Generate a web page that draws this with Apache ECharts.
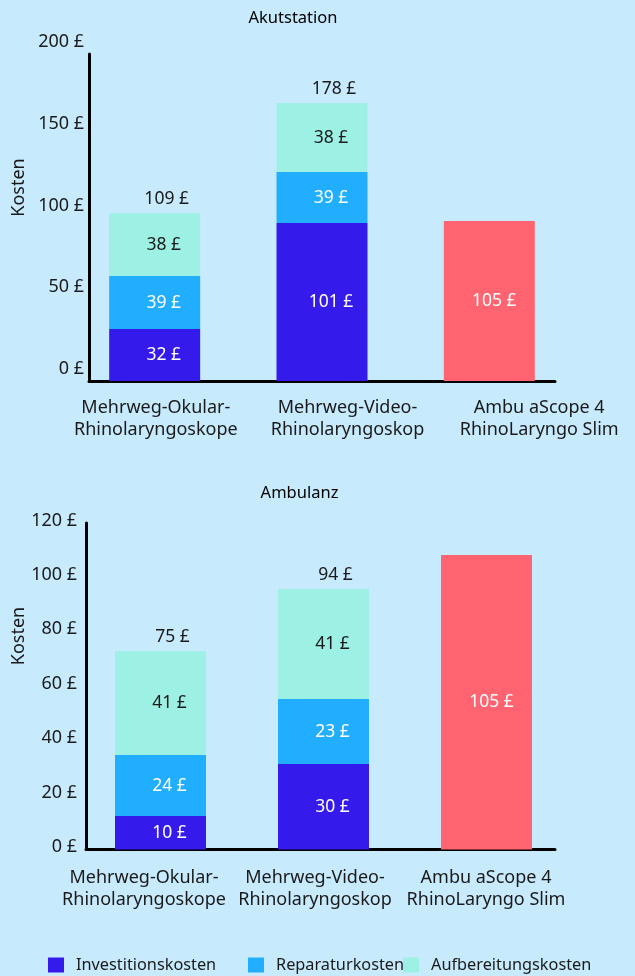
<!DOCTYPE html>
<html>
<head>
<meta charset="utf-8">
<script src="https://cdn.jsdelivr.net/npm/echarts@6/dist/echarts.min.js"></script>
<style>
  html, body { margin: 0; padding: 0; background: #c8eafd; }
  #chart { width: 635px; height: 976px; }
</style>
</head>
<body>
<div id="chart"></div>
<script>
const categories = ['Mehrweg-Okular-\nRhinolaryngoskope', 'Mehrweg-Video-\nRhinolaryngoskop', 'Ambu aScope 4\nRhinoLaryngo Slim'];
const seriesNames = ['Investitionskosten', 'Reparaturkosten', 'Aufbereitungskosten'];

// Akutstation - bar heights as drawn
const akutInvest = [31.8, 96.6];
const akutRepair = [32.4, 31.2];
const akutReprocess = [38.4, 42.2];
const akutAmbu = 97.9;
// Akutstation - printed labels
const akutInvestLabels = [32, 101];
const akutRepairLabels = [39, 39];
const akutReprocessLabels = [38, 38];
const akutTotalLabels = [109, 178];
const akutAmbuLabel = 105;
const akutTicks = [0, 50, 100, 150, 200];

// Ambulanz - bar heights as drawn
const ambInvest = [12.3, 31.4];
const ambRepair = [22.4, 23.9];
const ambReprocess = [38.2, 40.4];
const ambAmbu = 108.2;
// Ambulanz - printed labels
const ambInvestLabels = [10, 30];
const ambRepairLabels = [24, 23];
const ambReprocessLabels = [41, 41];
const ambTotalLabels = [75, 94];
const ambAmbuLabel = 105;
const ambTicks = [0, 20, 40, 60, 80, 100, 120];

const FONT = '"Noto Sans", sans-serif';
const TEXT = '#1a1a1a';
const colors = ['#341bec', '#22aefe', '#9cf0e4'];
const ambuColor = '#ff6470';

const chart = echarts.init(document.getElementById('chart'));

function panel(base, p) {
  const grids = [
    { left: p.axisLeft, width: p.axisWidth, top: p.top, height: p.height },
    { left: p.barLeft, width: p.barWidth, top: p.top, height: p.height },
    { left: p.lblLeft, width: p.lblWidth, top: p.top, height: p.height }
  ];
  const yMax = p.ticks[p.ticks.length - 1];
  const yStep = p.ticks[1] - p.ticks[0];
  const xAxes = [
    { gridIndex: base, type: 'category', data: categories,
      axisLine: { lineStyle: { color: '#000', width: 3 } },
      axisTick: { show: false }, axisLabel: { show: false } },
    { gridIndex: base + 1, type: 'category', data: categories, show: false },
    { gridIndex: base + 2, type: 'category', data: categories,
      axisLine: { show: false }, axisTick: { show: false },
      axisLabel: { interval: 0, fontSize: 18, lineHeight: 22, margin: p.catMargin,
        color: TEXT, fontFamily: FONT } }
  ];
  const yAxes = [
    { gridIndex: base, type: 'value', min: 0, max: yMax, interval: yStep,
      axisLine: { show: true, lineStyle: { color: '#000', width: 3 } },
      axisTick: { show: false }, splitLine: { show: false },
      axisLabel: { fontSize: 18, color: TEXT, fontFamily: FONT, margin: p.tickMargin,
        verticalAlign: 'bottom', lineHeight: p.tickLift, formatter: v => v + ' £' } },
    { gridIndex: base + 1, type: 'value', min: 0, max: yMax, show: false },
    { gridIndex: base + 2, type: 'value', min: 0, max: yMax, show: false }
  ];
  const stackId = 's' + base;
  const inside = (labels, color) => ({
    show: true, position: 'inside', offset: [9, 0], fontSize: 17.5, color: color,
    fontFamily: FONT, formatter: q => labels[q.dataIndex] + ' £'
  });
  const mk = (name, vals, labels, color, lblColor) => ({
    name: name, type: 'bar', stack: stackId, xAxisIndex: base + 1, yAxisIndex: base + 1,
    barWidth: 91, data: [vals[0], vals[1], null],
    itemStyle: { color: color }, label: inside(labels, lblColor)
  });
  const series = [
    mk(seriesNames[0], p.invest, p.investLabels, colors[0], '#fff'),
    mk(seriesNames[1], p.repair, p.repairLabels, colors[1], '#fff'),
    mk(seriesNames[2], p.reprocess, p.reprocessLabels, colors[2], TEXT),
    { name: 'Ambu', type: 'bar', stack: stackId, xAxisIndex: base + 1, yAxisIndex: base + 1,
      barWidth: 91, data: [null, null, p.ambu], itemStyle: { color: ambuColor },
      label: { show: true, position: 'inside', offset: [5, 0], fontSize: 17.5, color: '#fff',
        fontFamily: FONT, formatter: () => p.ambuLabel + ' £' } },
    { name: 'Summe', type: 'bar', stack: stackId, xAxisIndex: base + 1, yAxisIndex: base + 1,
      barWidth: 91, data: [0, 0, null], itemStyle: { color: 'transparent' },
      label: { show: true, position: 'top', distance: 6, offset: [12, 0], fontSize: 17.5,
        lineHeight: 16, color: TEXT, fontFamily: FONT,
        formatter: q => p.totalLabels[q.dataIndex] + ' £' } }
  ];
  return { grids, xAxes, yAxes, series };
}

const akutPanel = panel(0, {
  axisLeft: 89, axisWidth: 466, barLeft: 71, barWidth: 502, lblLeft: 60, lblWidth: 578,
  top: 54, height: 327, ticks: akutTicks, catMargin: 16, tickMargin: 5, tickLift: 24,
  invest: akutInvest, repair: akutRepair, reprocess: akutReprocess, ambu: akutAmbu,
  investLabels: akutInvestLabels, repairLabels: akutRepairLabels,
  reprocessLabels: akutReprocessLabels, totalLabels: akutTotalLabels, ambuLabel: akutAmbuLabel
});
const ambPanel = panel(3, {
  axisLeft: 86, axisWidth: 469, barLeft: 79, barWidth: 489, lblLeft: 58.5, lblWidth: 513,
  top: 523, height: 326.5, ticks: ambTicks, catMargin: 17.5, tickMargin: 9, tickLift: 5,
  invest: ambInvest, repair: ambRepair, reprocess: ambReprocess, ambu: ambAmbu,
  investLabels: ambInvestLabels, repairLabels: ambRepairLabels,
  reprocessLabels: ambReprocessLabels, totalLabels: ambTotalLabels, ambuLabel: ambAmbuLabel
});

const legendLefts = [48, 248, 403];
const legends = seriesNames.map((n, i) => ({
  data: [n], left: legendLefts[i], top: 957, padding: 0, icon: 'rect',
  itemWidth: 16, itemHeight: 15, selectedMode: false,
  textStyle: { fontSize: 16.3, color: TEXT, fontFamily: FONT, padding: [0, 0, 0, 7] }
}));

const option = {
  backgroundColor: '#c8eafd',
  animation: false,
  grid: akutPanel.grids.concat(ambPanel.grids),
  xAxis: akutPanel.xAxes.concat(ambPanel.xAxes),
  yAxis: akutPanel.yAxes.concat(ambPanel.yAxes),
  legend: legends,
  series: akutPanel.series.concat(ambPanel.series),
  graphic: [
    { type: 'text', x: 293, y: 18, style: { text: 'Akutstation', align: 'center', verticalAlign: 'middle',
      fontSize: 16.5, fontFamily: FONT, fill: '#000' } },
    { type: 'text', x: 299.5, y: 493, style: { text: 'Ambulanz', align: 'center', verticalAlign: 'middle',
      fontSize: 16.5, fontFamily: FONT, fill: '#000' } },
    { type: 'text', x: 18.5, y: 187.5, rotation: Math.PI / 2, style: { text: 'Kosten', align: 'center',
      verticalAlign: 'middle', fontSize: 18, fontFamily: FONT, fill: TEXT } },
    { type: 'text', x: 18.5, y: 636, rotation: Math.PI / 2, style: { text: 'Kosten', align: 'center',
      verticalAlign: 'middle', fontSize: 18, fontFamily: FONT, fill: TEXT } }
  ]
};
chart.setOption(option);
</script>
</body>
</html>
